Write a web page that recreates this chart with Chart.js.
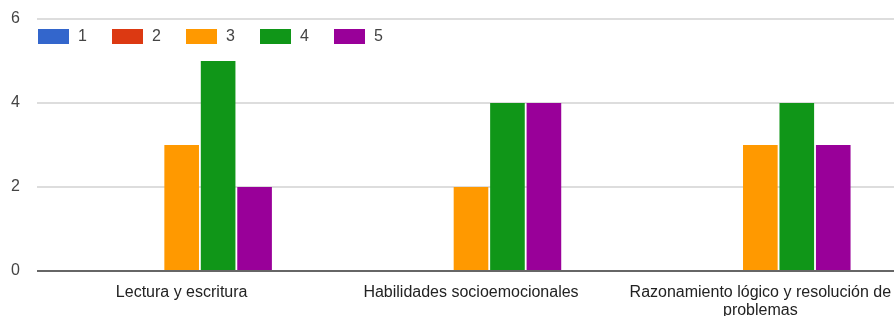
<!DOCTYPE html>
<html>
<head>
<meta charset="utf-8">
<script src="https://cdn.jsdelivr.net/npm/chart.js@4/dist/chart.umd.min.js"></script>
<style>
  html, body { margin: 0; padding: 0; background: #fff; overflow: hidden; }
  #wrap { width: 905px; height: 325px; }
</style>
</head>
<body>
<div id="wrap"><canvas id="respChart"></canvas></div>
<script>
const categories = [
  "Lectura y escritura",
  "Habilidades socioemocionales",
  ["Razonamiento lógico y resolución de", "problemas"]
];
const seriesNames = ["1", "2", "3", "4", "5"];
const seriesColors = ["#3366cc", "#dc3912", "#ff9900", "#109618", "#990099"];
const values1 = [0, 0, 0];
const values2 = [0, 0, 0];
const values3 = [3, 2, 3];
const values4 = [5, 4, 4];
const values5 = [2, 4, 3];
const yTicks = [0, 2, 4, 6];

const allValues = [values1, values2, values3, values4, values5];
const fontFam = "'Liberation Sans', Arial, sans-serif";

// small legend drawn inside the plot, like the forms summary charts
const insideLegend = {
  id: "insideLegend",
  afterDraw(chart) {
    const c = chart.ctx;
    const area = chart.chartArea;
    c.save();
    c.font = "16px " + fontFam;
    c.textBaseline = "middle";
    let x = area.left + 1;
    const y = area.top + 10;
    chart.data.datasets.forEach(ds => {
      c.fillStyle = ds.backgroundColor;
      c.fillRect(x, y, 31, 15);
      c.fillStyle = "#444";
      c.fillText(ds.label, x + 40, y + 8);
      x += 74;
    });
    c.restore();
  }
};

const ctx = document.getElementById("respChart").getContext("2d");

new Chart(ctx, {
  type: "bar",
  data: {
    labels: categories,
    datasets: seriesNames.map((name, i) => ({
      label: name,
      data: allValues[i],
      backgroundColor: seriesColors[i],
      borderWidth: 0,
      barPercentage: 0.95,
      categoryPercentage: 0.63
    }))
  },
  options: {
    responsive: true,
    maintainAspectRatio: false,
    animation: false,
    layout: { padding: { top: 19, right: 0, left: 0, bottom: 0 } },
    plugins: {
      legend: { display: false },
      tooltip: { enabled: false }
    },
    scales: {
      x: {
        grid: { display: false, drawTicks: false },
        border: { display: false },
        ticks: {
          color: "#222",
          padding: 12,
          maxRotation: 0,
          autoSkip: false,
          font: { family: fontFam, size: 16, lineHeight: 1.15 }
        },
        afterFit(scale) {
          scale.height = 54;
          scale.paddingTop = 0;
          scale.paddingBottom = 0;
        }
      },
      y: {
        min: 0,
        max: 6,
        afterBuildTicks(scale) { scale.ticks = yTicks.map(v => ({ value: v })); },
        grid: {
          drawTicks: false,
          color: c => c.tick && c.tick.value === 0 ? "#666" : "#ddd",
          lineWidth: 2
        },
        border: { display: false },
        ticks: {
          color: "#444",
          padding: 17,
          font: { family: fontFam, size: 16 }
        },
        afterFit(scale) {
          scale.width = 37;
          scale.paddingTop = 0;
          scale.paddingBottom = 0;
        }
      }
    }
  },
  plugins: [insideLegend]
});
</script>
</body>
</html>
